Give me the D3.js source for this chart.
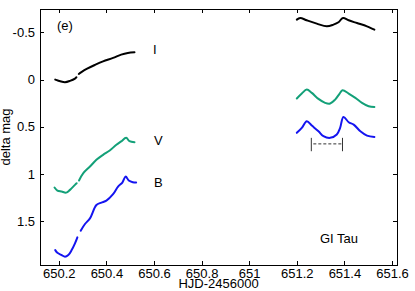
<!DOCTYPE html>
<html>
<head>
<meta charset="utf-8" />
<script src="https://cdn.jsdelivr.net/npm/d3@7"></script>
<style>
  body { margin: 0; background: #fff; }
  text { font-family: "Liberation Sans", Arial, sans-serif; font-size: 13px; fill: #000; }
  .frame { fill: none; stroke: #000; stroke-width: 1; shape-rendering: crispEdges; }
  .tick line { stroke: #000; shape-rendering: crispEdges; }
  .lc { fill: none; stroke-width: 2; stroke-linejoin: round; stroke-linecap: round; }
</style>
</head>
<body>
<svg width="415" height="291"></svg>
<script>
// tick values and labels
var xTicks = [650.2, 650.4, 650.6, 650.8, 651, 651.2, 651.4, 651.6];
var xTickLabels = ["650.2", "650.4", "650.6", "650.8", "651", "651.2", "651.4", "651.6"];
var yTicks = [-0.5, 0, 0.5, 1, 1.5];
var yTickLabels = ["-0.5", "0", "0.5", "1", "1.5"];

// light curves: [HJD-2456000, delta mag], null = gap
var iNight1 = [[650.185,0.000],[650.196,0.010],[650.206,0.018],[650.226,0.028],[650.247,0.014],[650.268,-0.011],[650.274,-0.025],
  [650.279,null],
  [650.284,-0.060],[650.295,-0.080],[650.317,-0.113],[650.351,-0.155],[650.386,-0.194],[650.428,-0.230],[650.462,-0.265],[650.490,-0.283],[650.518,-0.290]];
var vNight1 = [[650.182,1.145],[650.194,1.177],[650.212,1.188],[650.231,1.199],[650.247,1.170],[650.268,1.117],[650.275,1.100],
  [650.280,null],
  [650.285,1.071],[650.303,0.993],[650.331,0.922],[650.358,0.851],[650.386,0.798],[650.414,0.752],[650.442,0.691],[650.462,0.656],[650.483,0.618],[650.497,0.654],[650.518,0.664]];
var bNight1 = [[650.185,1.809],[650.194,1.837],[650.212,1.862],[650.226,1.879],[650.240,1.862],[650.254,1.809],[650.268,1.738],[650.278,1.674],
  [650.285,null],
  [650.292,1.603],[650.310,1.532],[650.331,1.472],[650.358,1.330],[650.379,1.305],[650.400,1.284],[650.428,1.216],[650.449,1.135],[650.467,1.092],[650.481,1.028],[650.494,1.071],[650.511,1.089],[650.525,1.092]];
var iNight2 = [[651.200,-0.636],[651.214,-0.654],[651.242,-0.629],[651.284,-0.594],[651.326,-0.565],[651.354,-0.583],[651.375,-0.608],[651.394,-0.654],[651.418,-0.629],[651.453,-0.600],[651.495,-0.565],[651.526,-0.530]];
var vNight2 = [[651.200,0.201],[651.221,0.148],[651.242,0.106],[651.263,0.141],[651.291,0.205],[651.319,0.247],[651.340,0.254],[651.361,0.212],[651.380,0.148],[651.392,0.113],[651.418,0.148],[651.446,0.194],[651.474,0.247],[651.502,0.283],[651.526,0.290]];
var bNight2 = [[651.200,0.565],[651.221,0.512],[651.242,0.442],[651.263,0.488],[651.291,0.548],[651.312,0.600],[651.340,0.618],[651.368,0.583],[651.382,0.512],[651.396,0.396],[651.418,0.452],[651.439,0.477],[651.467,0.548],[651.495,0.594],[651.526,0.608]];

// period marker: start, end, top, bottom, dash level
var periodMark = [651.261, 651.392, 0.618, 0.760, 0.682];

var svg = d3.select("svg");
var L = 40, R = 397, T = 9, B = 265;

var x = d3.scaleLinear().domain([650.121, 651.621]).range([L, R]);
var y = d3.scaleLinear().domain([-0.749, 1.967]).range([T, B]);

// axes (ticks pointing inward)
svg.append("g").attr("transform", "translate(0," + B + ")")
  .call(d3.axisBottom(x).tickValues(xTicks).tickSize(-4).tickPadding(3.5)
    .tickFormat(function(d, i) { return xTickLabels[i]; }));
svg.append("g").attr("transform", "translate(0," + T + ")")
  .call(d3.axisTop(x).tickValues(xTicks).tickSize(-4).tickFormat(""));
svg.append("g").attr("transform", "translate(" + L + ",0)")
  .call(d3.axisLeft(y).tickValues(yTicks).tickSize(-4).tickPadding(5)
    .tickFormat(function(d, i) { return yTickLabels[i]; }));
svg.append("g").attr("transform", "translate(" + R + ",0)")
  .call(d3.axisRight(y).tickValues(yTicks).tickSize(-4).tickFormat(""));
svg.selectAll(".domain").remove();
svg.selectAll(".tick text").attr("font-size", null).attr("font-family", null);

svg.append("rect").attr("class", "frame")
  .attr("x", L).attr("y", T).attr("width", R - L).attr("height", B - T);

// curves
var line = d3.line()
  .defined(function(d) { return d[1] != null; })
  .x(function(d) { return x(d[0]); })
  .y(function(d) { return y(d[1]); })
  .curve(d3.curveCatmullRom);

var curves = [
  { data: iNight1, color: "#000000" }, { data: iNight2, color: "#000000" },
  { data: vNight1, color: "#13a078" }, { data: vNight2, color: "#13a078" },
  { data: bNight1, color: "#1414f0" }, { data: bNight2, color: "#1414f0" }
];
svg.selectAll(".lc").data(curves).enter().append("path")
  .attr("class", "lc")
  .attr("d", function(d) { return line(d.data); })
  .attr("stroke", function(d) { return d.color; });

// period marker
var pm = svg.append("g").attr("stroke", "#333").attr("stroke-width", 1);
pm.append("line").attr("x1", x(periodMark[0])).attr("x2", x(periodMark[0]))
  .attr("y1", y(periodMark[2])).attr("y2", y(periodMark[3]));
pm.append("line").attr("x1", x(periodMark[1])).attr("x2", x(periodMark[1]))
  .attr("y1", y(periodMark[2])).attr("y2", y(periodMark[3]));
pm.append("line").attr("x1", x(periodMark[0]) + 2).attr("x2", x(periodMark[1]) - 1)
  .attr("y1", y(periodMark[4])).attr("y2", y(periodMark[4]))
  .attr("stroke-dasharray", "3,2");

// labels
svg.append("text").attr("x", 57).attr("y", 30).text("(e)");
svg.append("text").attr("x", 153).attr("y", 54).text("I");
svg.append("text").attr("x", 154).attr("y", 145).text("V");
svg.append("text").attr("x", 154).attr("y", 187).text("B");
svg.append("text").attr("x", 320).attr("y", 243).text("GI Tau");
svg.append("text").attr("x", (L + R) / 2).attr("y", 288).attr("text-anchor", "middle").text("HJD-2456000");
svg.append("text").attr("transform", "translate(10,137) rotate(-90)")
  .attr("text-anchor", "middle").text("delta mag");
</script>
</body>
</html>
